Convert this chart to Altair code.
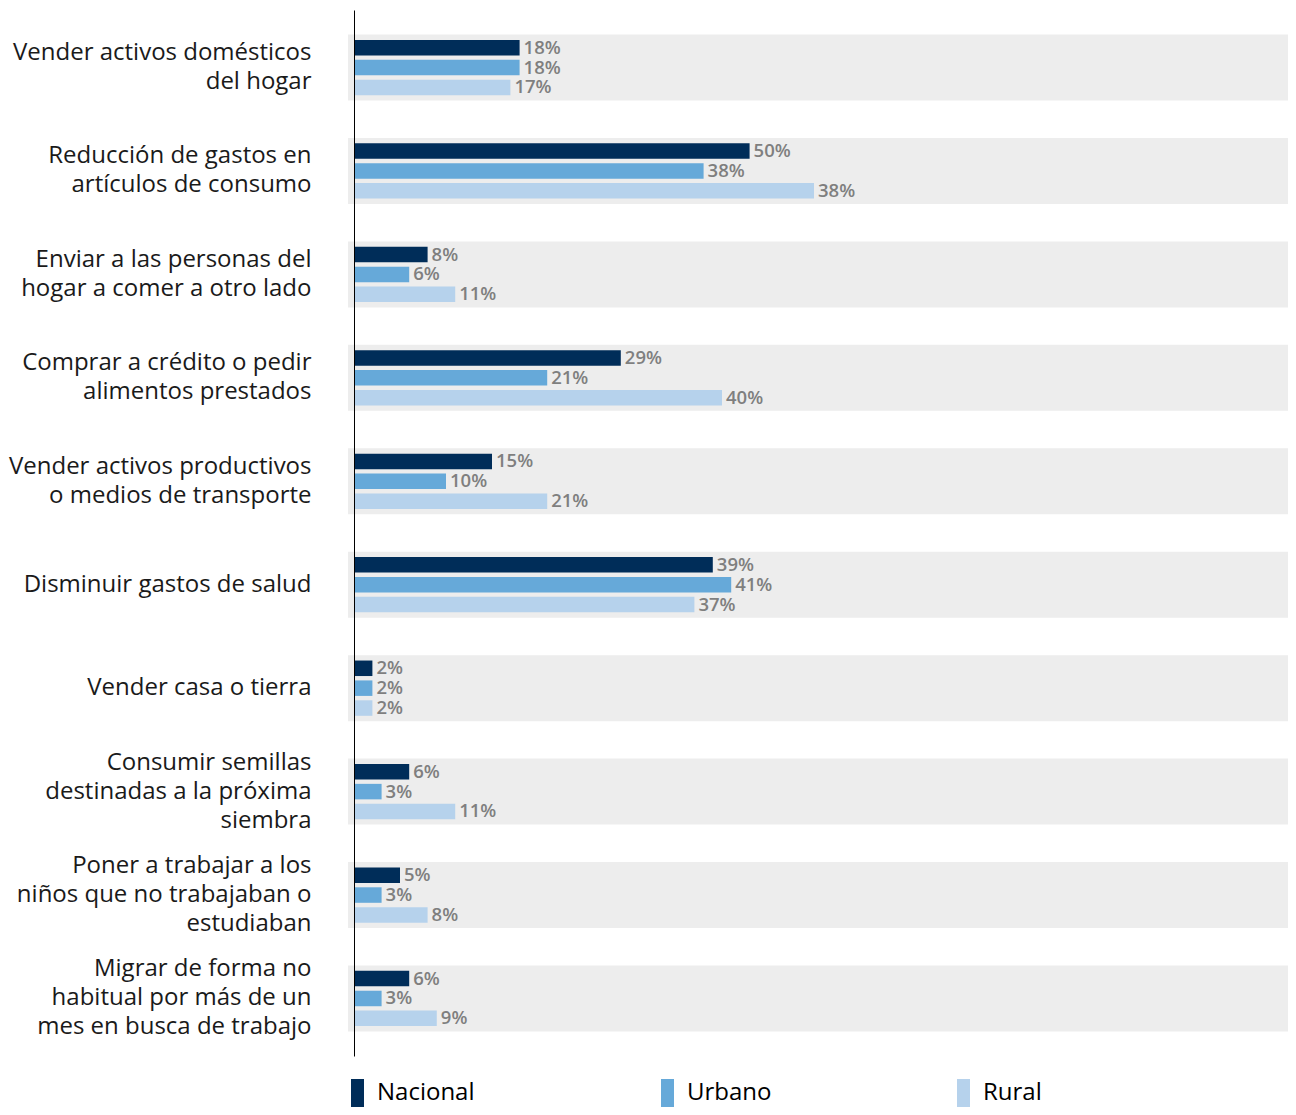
import altair as alt
import pandas as pd

categories = [
    "Vender activos domésticos|del hogar",
    "Reducción de gastos en|artículos de consumo",
    "Enviar a las personas del|hogar a comer a otro lado",
    "Comprar a crédito o pedir|alimentos prestados",
    "Vender activos productivos|o medios de transporte",
    "Disminuir gastos de salud",
    "Vender casa o tierra",
    "Consumir semillas|destinadas a la próxima|siembra",
    "Poner a trabajar a los|niños que no trabajaban o|estudiaban",
    "Migrar de forma no|habitual por más de un|mes en busca de trabajo",
]
series = ["Nacional", "Urbano", "Rural"]
colors = ["#002d59", "#66a9d9", "#b6d2ec"]

# bar lengths as drawn in the picture (%)
nacional = [18, 43, 8, 29, 15, 39, 2, 6, 5, 6]
urbano = [18, 38, 6, 21, 10, 41, 2, 3, 3, 3]
rural = [17, 50, 11, 40, 21, 37, 2, 11, 8, 9]

# value labels as printed in the picture
nacional_labels = ["18%", "50%", "8%", "29%", "15%", "39%", "2%", "6%", "5%", "6%"]
urbano_labels = ["18%", "38%", "6%", "21%", "10%", "41%", "2%", "3%", "3%", "3%"]
rural_labels = ["17%", "38%", "11%", "40%", "21%", "37%", "2%", "11%", "8%", "9%"]

rows = []
for name, vals, labs in [("Nacional", nacional, nacional_labels),
                         ("Urbano", urbano, urbano_labels),
                         ("Rural", rural, rural_labels)]:
    for c, v, l in zip(categories, vals, labs):
        rows.append({"cat": c, "series": name, "value": v, "label": l})
df = pd.DataFrame(rows)
band_df = pd.DataFrame({"cat": categories})

W = 920
H = 1046
LH = 29

yscale = alt.Scale(paddingInner=0.362, paddingOuter=0.237)
yaxis = alt.Axis(
    title=None, ticks=False, domainColor="black", domainWidth=1,
    labelFont="Open Sans", labelFontSize=24, labelColor="#1a1a1a",
    labelLineHeight=LH, labelPadding=43, labelLimit=400,
    labelExpr="split(datum.label, '|')", zindex=1, grid=False,
    labelOffset={
        "condition": [
            {"test": "length(split(datum.value, '|')) == 3", "value": -LH},
            {"test": "length(split(datum.value, '|')) == 2", "value": -LH / 2},
        ],
        "value": 0,
    },
)
yenc = alt.Y("cat:N", sort=categories, scale=yscale, axis=yaxis)
yoff = alt.YOffset("series:N", sort=series,
                   scale=alt.Scale(paddingInner=0.22, paddingOuter=0.27))
xenc = alt.X("value:Q", scale=alt.Scale(domain=[0, 100]), axis=None)

bands = alt.Chart(band_df).mark_rect(color="#ededed").encode(
    y=yenc, x=alt.value(-6), x2=alt.value(W + 14)
)

bars = alt.Chart(df).mark_bar().encode(
    y=yenc, yOffset=yoff, x=xenc,
    color=alt.Color(
        "series:N", sort=series,
        scale=alt.Scale(domain=series, range=colors),
        legend=alt.Legend(
            title=None, orient="none", legendX=-10.5, legendY=1069,
            direction="horizontal", padding=0,
            symbolType="M-0.464,-1L0.464,-1L0.464,1L-0.464,1Z",
            symbolSize=784, symbolStrokeWidth=0, symbolOpacity=1,
            labelFont="Open Sans", labelFontSize=24, labelColor="black",
            labelOffset=5.5, columnPadding=178, labelLimit=300,
        ),
    ),
)

text = alt.Chart(df).mark_text(
    align="left", baseline="middle", dx=4, fontSize=18.5,
    color="#7f7f7f", font="Open Sans", fontWeight=600,
).encode(y=yenc, yOffset=yoff, x=xenc, text="label:N")

chart = alt.layer(bands, bars, text).properties(
    width=W, height=H,
    autosize=alt.AutoSizeParams(type="none"),
    padding={"left": 346, "top": 2, "right": 14, "bottom": 51},
).configure_view(stroke=None)

chart.save("out.html", embed_options={"renderer": "svg", "actions": False})
